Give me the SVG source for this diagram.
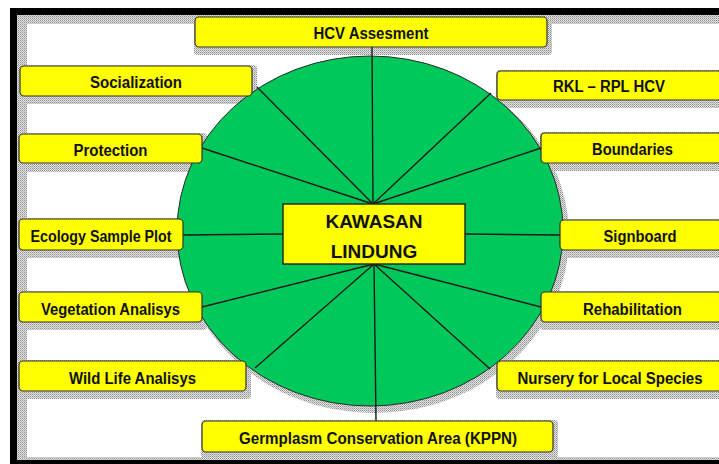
<svg xmlns="http://www.w3.org/2000/svg" width="719" height="464" viewBox="0 0 719 464">
<style>
.box{fill:#ffff00;stroke:#333;stroke-width:1.2}
.shd{fill:url(#dith)}
.lbl{font-family:"Liberation Sans",Arial,sans-serif;font-weight:bold;font-size:16px;fill:#111;text-anchor:middle}
.big{font-family:"Liberation Sans",Arial,sans-serif;font-weight:bold;font-size:19px;fill:#111;text-anchor:middle}
.con{stroke:#1a1a1a;stroke-width:1.4;fill:none}
</style>
<defs>
<pattern id="dith" width="2" height="2" patternUnits="userSpaceOnUse">
<rect width="2" height="2" fill="#e4e4e4"/>
<rect width="1" height="1" fill="#8c8c8c"/>
<rect x="1" y="1" width="1" height="1" fill="#b4b4b4"/>
</pattern>
</defs>
<rect width="719" height="464" fill="#fff"/>
<g id="frame">
<rect x="10" y="8" width="720" height="470" fill="#000"/>
<rect x="17" y="15" width="713" height="445" fill="#fff"/>
<rect x="17" y="15" width="713" height="9" class="shd"/>
<rect x="17" y="15" width="10" height="445" class="shd"/>
<rect x="17" y="457" width="713" height="3" class="shd"/>
</g>
<g id="shadows">
<rect x="194" y="16" width="358" height="39" rx="4" class="shd"/>
<rect x="19" y="65" width="238" height="39" rx="4" class="shd"/>
<rect x="496" y="70" width="231" height="38" rx="4" class="shd"/>
<rect x="18" y="133" width="189" height="39" rx="4" class="shd"/>
<rect x="540" y="132" width="187" height="39" rx="4" class="shd"/>
<rect x="18" y="218" width="170" height="40" rx="4" class="shd"/>
<rect x="559" y="219" width="168" height="39" rx="4" class="shd"/>
<rect x="18" y="291" width="189" height="39" rx="4" class="shd"/>
<rect x="540" y="291" width="187" height="39" rx="4" class="shd"/>
<rect x="18" y="360" width="233" height="39" rx="4" class="shd"/>
<rect x="496" y="360" width="231" height="39" rx="4" class="shd"/>
<rect x="201" y="420" width="357" height="38" rx="4" class="shd"/>
</g>
<g id="area">
<ellipse cx="374" cy="236" rx="195" ry="177" class="shd"/>
<ellipse cx="370" cy="231" rx="193" ry="175" fill="#00c85a" stroke="#2a2a2a" stroke-width="1"/>
</g>
<g id="connectors">
<line class="con" x1="372" y1="47" x2="373" y2="204"/>
<line class="con" x1="257" y1="87" x2="373" y2="204"/>
<line class="con" x1="491" y1="93" x2="373" y2="204"/>
<line class="con" x1="202" y1="148" x2="373" y2="204"/>
<line class="con" x1="541" y1="148" x2="373" y2="204"/>
<line class="con" x1="183" y1="235" x2="283" y2="234"/>
<line class="con" x1="465" y1="234" x2="560" y2="235"/>
<line class="con" x1="202" y1="307" x2="374" y2="264"/>
<line class="con" x1="541" y1="307" x2="374" y2="264"/>
<line class="con" x1="255" y1="368" x2="374" y2="264"/>
<line class="con" x1="490" y1="369" x2="374" y2="264"/>
<line class="con" x1="376" y1="421" x2="374" y2="264"/>
</g>
<g id="center">
<rect x="283" y="204" width="182" height="60" fill="#ffff00" stroke="#222" stroke-width="1.4"/>
<text class="big" x="374" y="228">KAWASAN</text>
<text class="big" x="374" y="258">LINDUNG</text>
</g>
<g id="hcv"><rect class="box" x="195" y="17" width="352" height="30" rx="4"/><text class="lbl" x="371" y="39" textLength="115" lengthAdjust="spacingAndGlyphs">HCV Assesment</text></g>
<g id="socialization"><rect class="box" x="20" y="66" width="232" height="30" rx="4"/><text class="lbl" x="136" y="88" textLength="92" lengthAdjust="spacingAndGlyphs">Socialization</text></g>
<g id="rkl"><rect class="box" x="497" y="71" width="225" height="29" rx="4"/><text class="lbl" x="609" y="92" textLength="112" lengthAdjust="spacingAndGlyphs">RKL – RPL HCV</text></g>
<g id="protection"><rect class="box" x="19" y="134" width="183" height="29" rx="4"/><text class="lbl" x="110.5" y="155.5" textLength="74" lengthAdjust="spacingAndGlyphs">Protection</text></g>
<g id="boundaries"><rect class="box" x="541" y="133" width="181" height="30" rx="4"/><text class="lbl" x="632.5" y="155" textLength="81" lengthAdjust="spacingAndGlyphs">Boundaries</text></g>
<g id="ecology"><rect class="box" x="19" y="219" width="164" height="31" rx="4"/><text class="lbl" x="101" y="241.5" textLength="141" lengthAdjust="spacingAndGlyphs">Ecology Sample Plot</text></g>
<g id="signboard"><rect class="box" x="560" y="220" width="162" height="30" rx="4"/><text class="lbl" x="640" y="242" textLength="73" lengthAdjust="spacingAndGlyphs">Signboard</text></g>
<g id="vegetation"><rect class="box" x="19" y="292" width="183" height="30" rx="4"/><text class="lbl" x="110.5" y="314.5" textLength="139" lengthAdjust="spacingAndGlyphs">Vegetation Analisys</text></g>
<g id="rehabilitation"><rect class="box" x="541" y="292" width="181" height="30" rx="4"/><text class="lbl" x="632.5" y="314.5" textLength="99" lengthAdjust="spacingAndGlyphs">Rehabilitation</text></g>
<g id="wildlife"><rect class="box" x="19" y="361" width="227" height="30" rx="4"/><text class="lbl" x="132.5" y="383.5" textLength="127" lengthAdjust="spacingAndGlyphs">Wild Life Analisys</text></g>
<g id="nursery"><rect class="box" x="497" y="361" width="225" height="30" rx="4"/><text class="lbl" x="610" y="383.5" textLength="185" lengthAdjust="spacingAndGlyphs">Nursery for Local Species</text></g>
<g id="germplasm"><rect class="box" x="202" y="421" width="351" height="31" rx="4"/><text class="lbl" x="378" y="443.5" textLength="278" lengthAdjust="spacingAndGlyphs">Germplasm Conservation Area (KPPN)</text></g>
</svg>
